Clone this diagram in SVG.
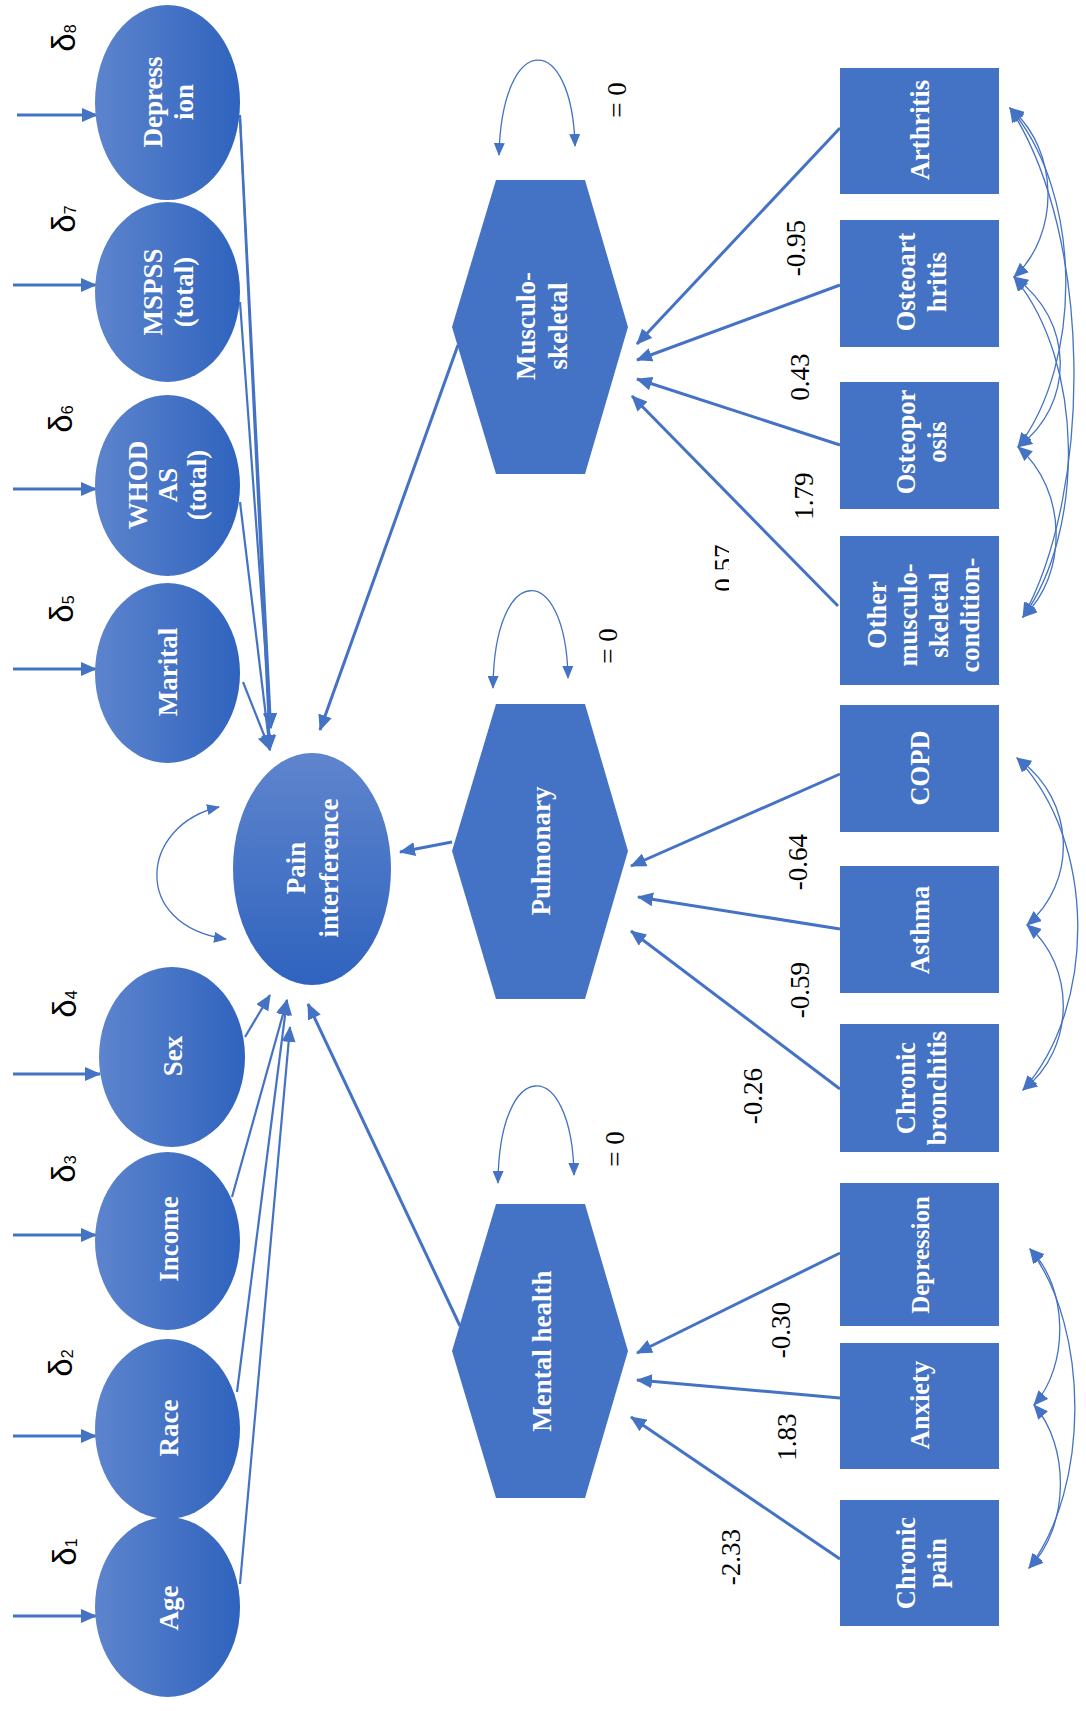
<svg xmlns="http://www.w3.org/2000/svg" width="1086" height="1711" viewBox="0 0 1086 1711">
<defs>
<style>
.bg{fill:#ffffff}
.ell{fill:url(#gH)}
.box{fill:#4472C4}
.ln{fill:none;stroke:#4472C4;stroke-width:3}
.ln2{fill:none;stroke:#4472C4;stroke-width:2.2}
.thin{fill:none;stroke:#4472C4;stroke-width:1.3}
.nt{font-family:"Liberation Serif","Times New Roman",serif;font-weight:bold;font-size:27px;fill:#ffffff;text-anchor:middle}
.rt{font-family:"Liberation Serif","Times New Roman",serif;font-weight:bold;font-size:26.5px;fill:#ffffff;text-anchor:middle}
.lb{font-family:"Liberation Serif","Times New Roman",serif;font-size:27px;fill:#000000;text-anchor:middle}
.dl{font-family:"Liberation Sans",Arial,sans-serif;font-size:33px;fill:#000000;text-anchor:middle}
.sub{font-size:16px}
</style>
<linearGradient id="gH" x1="0" y1="0" x2="1" y2="0">
<stop offset="0" stop-color="#5d84cd"/>
<stop offset="1" stop-color="#2f63be"/>
</linearGradient>
<linearGradient id="gV" x1="0" y1="0" x2="0" y2="1">
<stop offset="0" stop-color="#5f85cd"/>
<stop offset="1" stop-color="#2f63be"/>
</linearGradient>
<marker id="ah" viewBox="0 0 16 14" refX="15" refY="7" markerWidth="16" markerHeight="14" markerUnits="userSpaceOnUse" orient="auto-start-reverse">
<path d="M0,0 L16,7 L0,14 z" fill="#4472C4"/>
</marker>
<marker id="ahs" viewBox="0 0 13 11" refX="12" refY="5.5" markerWidth="13" markerHeight="11" markerUnits="userSpaceOnUse" orient="auto-start-reverse">
<path d="M0,0 L13,5.5 L0,11 z" fill="#4472C4"/>
</marker>
<marker id="ahc" viewBox="0 0 15 13" refX="14" refY="6.5" markerWidth="15" markerHeight="13" markerUnits="userSpaceOnUse" orient="auto-start-reverse">
<path d="M0,0 L15,6.5 L0,13 z" fill="#4472C4"/>
</marker>
<clipPath id="clip057"><rect x="690" y="520" width="39" height="100"/></clipPath>
</defs>
<rect class="bg" x="0" y="0" width="1086" height="1711"/>

<g id="connectors">
<!-- delta arrows -->
<path class="ln" d="M17,115 L97,115" marker-end="url(#ah)"/>
<path class="ln" d="M13,285 L96,285" marker-end="url(#ah)"/>
<path class="ln" d="M13,489 L96,489" marker-end="url(#ah)"/>
<path class="ln" d="M13,669 L96,669" marker-end="url(#ah)"/>
<path class="ln" d="M13,1074 L100,1074" marker-end="url(#ah)"/>
<path class="ln" d="M13,1235 L96,1235" marker-end="url(#ah)"/>
<path class="ln" d="M13,1436 L96,1436" marker-end="url(#ah)"/>
<path class="ln" d="M13,1616 L96,1616" marker-end="url(#ah)"/>
<!-- predictors to Pain interference -->
<path class="ln2" d="M240,115 L271,728" marker-end="url(#ah)"/>
<path class="ln2" d="M240,119 L270,750" marker-end="url(#ah)"/>
<path class="ln2" d="M240,302 L271,728" marker-end="url(#ah)"/>
<path class="ln2" d="M240,502 L270,750" marker-end="url(#ah)"/>
<path class="ln2" d="M243,682 L270,750" marker-end="url(#ah)"/>
<path class="ln2" d="M245,1037 L270,995" marker-end="url(#ah)"/>
<path class="ln2" d="M232,1197 L287,1000" marker-end="url(#ah)"/>
<path class="ln2" d="M237,1392 L287,1000" marker-end="url(#ah)"/>
<path class="ln2" d="M240,1584 L290,1027" marker-end="url(#ah)"/>
<!-- latent to Pain interference -->
<path class="ln" d="M458,345 L320,730" marker-end="url(#ah)"/>
<path class="ln" d="M452,842 L400,852" marker-end="url(#ah)"/>
<path class="ln" d="M460,1326 L308,1004" marker-end="url(#ah)"/>
<!-- indicators to latent -->
<path class="ln" d="M840,128 L637,344" marker-end="url(#ah)"/>
<path class="ln" d="M840,285 L637,360" marker-end="url(#ah)"/>
<path class="ln" d="M840,445 L637,379" marker-end="url(#ah)"/>
<path class="ln" d="M838,606 L632,396" marker-end="url(#ah)"/>
<path class="ln" d="M840,774 L631,866" marker-end="url(#ah)"/>
<path class="ln" d="M840,929 L638,897" marker-end="url(#ah)"/>
<path class="ln" d="M840,1089 L631,931" marker-end="url(#ah)"/>
<path class="ln" d="M840,1253 L637,1353" marker-end="url(#ah)"/>
<path class="ln" d="M840,1398 L637,1380" marker-end="url(#ah)"/>
<path class="ln" d="M840,1559 L631,1417" marker-end="url(#ah)"/>
<!-- self loops -->
<path class="thin" d="M499,155 C502,30 572,30 575,146" marker-start="url(#ahs)" marker-end="url(#ahs)"/>
<path class="thin" d="M493,688 C494,560 566,560 568,678" marker-start="url(#ahs)" marker-end="url(#ahs)"/>
<path class="thin" d="M498,1183 C499,1055 572,1055 574,1175" marker-start="url(#ahs)" marker-end="url(#ahs)"/>
<path class="thin" d="M219,807 C140,825 130,925 226,939" marker-start="url(#ahs)" marker-end="url(#ahs)"/>
<!-- covariances -->
<path class="thin" d="M1010,108 C1060,150 1060,235 1014,277" marker-start="url(#ahc)" marker-end="url(#ahc)"/>
<path class="thin" d="M1014,277 C1075,320 1075,405 1018,447" marker-start="url(#ahc)" marker-end="url(#ahc)"/>
<path class="thin" d="M1018,447 C1068,490 1068,575 1023,617" marker-start="url(#ahc)" marker-end="url(#ahc)"/>
<path class="thin" d="M1010,108 C1083,193 1083,362 1018,447" marker-start="url(#ahc)" marker-end="url(#ahc)"/>
<path class="thin" d="M1014,277 C1085,362 1085,532 1023,617" marker-start="url(#ahc)" marker-end="url(#ahc)"/>
<path class="thin" d="M1010,108 C1093,235 1093,490 1023,617" marker-start="url(#ahc)" marker-end="url(#ahc)"/>
<path class="thin" d="M1017,758 C1077,800 1077,883 1027,925" marker-start="url(#ahc)" marker-end="url(#ahc)"/>
<path class="thin" d="M1027,925 C1076,966 1076,1049 1023,1090" marker-start="url(#ahc)" marker-end="url(#ahc)"/>
<path class="thin" d="M1017,758 C1097,841 1097,1007 1023,1090" marker-start="url(#ahc)" marker-end="url(#ahc)"/>
<path class="thin" d="M1030,1249 C1069,1288 1069,1366 1034,1405" marker-start="url(#ahc)" marker-end="url(#ahc)"/>
<path class="thin" d="M1034,1405 C1070,1446 1070,1527 1029,1568" marker-start="url(#ahc)" marker-end="url(#ahc)"/>
<path class="thin" d="M1030,1249 C1090,1329 1090,1488 1029,1568" marker-start="url(#ahc)" marker-end="url(#ahc)"/>
</g>

<g id="labels">
<text class="dl" transform="translate(75,38) rotate(-90)">δ<tspan class="sub" dy="1">8</tspan></text>
<text class="dl" transform="translate(75,219) rotate(-90)">δ<tspan class="sub" dy="1">7</tspan></text>
<text class="dl" transform="translate(72,419) rotate(-90)">δ<tspan class="sub" dy="1">6</tspan></text>
<text class="dl" transform="translate(73,609) rotate(-90)">δ<tspan class="sub" dy="1">5</tspan></text>
<text class="dl" transform="translate(76,1004) rotate(-90)">δ<tspan class="sub" dy="1">4</tspan></text>
<text class="dl" transform="translate(75,1169) rotate(-90)">δ<tspan class="sub" dy="1">3</tspan></text>
<text class="dl" transform="translate(72,1363) rotate(-90)">δ<tspan class="sub" dy="1">2</tspan></text>
<text class="dl" transform="translate(76,1552) rotate(-90)">δ<tspan class="sub" dy="1">1</tspan></text>
<text class="lb" transform="translate(617,100) rotate(-90)" y="9">= 0</text>
<text class="lb" transform="translate(608,646) rotate(-90)" y="9">= 0</text>
<text class="lb" transform="translate(615,1149) rotate(-90)" y="9">= 0</text>
<text class="lb" transform="translate(796,248) rotate(-90)" y="9">-0.95</text>
<text class="lb" transform="translate(800,377) rotate(-90)" y="9">0.43</text>
<text class="lb" transform="translate(804,496) rotate(-90)" y="9">1.79</text>
<g clip-path="url(#clip057)"><text class="lb" transform="translate(724,568) rotate(-90)" y="9">0.57</text></g>
<text class="lb" transform="translate(798,862) rotate(-90)" y="9">-0.64</text>
<text class="lb" transform="translate(800,990) rotate(-90)" y="9">-0.59</text>
<text class="lb" transform="translate(753,1096) rotate(-90)" y="9">-0.26</text>
<text class="lb" transform="translate(781,1330) rotate(-90)" y="9">-0.30</text>
<text class="lb" transform="translate(787,1437) rotate(-90)" y="9">1.83</text>
<text class="lb" transform="translate(731,1557) rotate(-90)" y="9">-2.33</text>
</g>

<g id="n-depression">
<ellipse class="ell" cx="167.5" cy="102.5" rx="72.5" ry="97.5"/>
<text class="nt" transform="translate(167.5,102) rotate(-90)"><tspan x="0" y="-5.5">Depress</tspan><tspan x="0" y="25.5">ion</tspan></text>
</g>
<g id="n-mspss">
<ellipse class="ell" cx="167.5" cy="292" rx="72.5" ry="90"/>
<text class="nt" transform="translate(167.5,292) rotate(-90)"><tspan x="0" y="-5.5">MSPSS</tspan><tspan x="0" y="25.5">(total)</tspan></text>
</g>
<g id="n-whodas">
<ellipse class="ell" cx="167.5" cy="485.5" rx="72.5" ry="90.5"/>
<text class="nt" transform="translate(167.5,485) rotate(-90)"><tspan x="0" y="-20.5">WHOD</tspan><tspan x="0" y="9.5">AS</tspan><tspan x="0" y="38.5">(total)</tspan></text>
</g>
<g id="n-marital">
<ellipse class="ell" cx="167.5" cy="673" rx="72.5" ry="90"/>
<text class="nt" transform="translate(167.5,672) rotate(-90)" y="9.5">Marital</text>
</g>
<g id="n-sex">
<ellipse class="ell" cx="172" cy="1057" rx="73" ry="90"/>
<text class="nt" transform="translate(172,1056) rotate(-90)" y="10">Sex</text>
</g>
<g id="n-income">
<ellipse class="ell" cx="167.5" cy="1241" rx="72.5" ry="89"/>
<text class="nt" transform="translate(167.5,1239) rotate(-90)" y="10">Income</text>
</g>
<g id="n-race">
<ellipse class="ell" cx="167.5" cy="1429" rx="72.5" ry="90"/>
<text class="nt" transform="translate(167.5,1428) rotate(-90)" y="10">Race</text>
</g>
<g id="n-age">
<ellipse class="ell" cx="167.5" cy="1607" rx="72.5" ry="90"/>
<text class="nt" transform="translate(167.5,1608) rotate(-90)" y="10">Age</text>
</g>
<g id="n-pain">
<ellipse cx="312" cy="869" rx="79" ry="116" fill="url(#gV)"/>
<text class="nt" transform="translate(312,868) rotate(-90)"><tspan x="0" y="-7">Pain</tspan><tspan x="0" y="26">interference</tspan></text>
</g>

<g id="n-musculo">
<polygon class="box" points="496,180 585,180 628,327 585,474 496,474 452,327"/>
<text class="nt" transform="translate(540,326) rotate(-90)"><tspan x="0" y="-5">Musculo-</tspan><tspan x="0" y="27">skeletal</tspan></text>
</g>
<g id="n-pulmonary">
<polygon class="box" points="496,704 585,704 628,851 585,999 496,999 452,851"/>
<text class="nt" transform="translate(540,851) rotate(-90)" y="10">Pulmonary</text>
</g>
<g id="n-mental">
<polygon class="box" points="496,1204 585,1204 628,1351 585,1498 496,1498 452,1351"/>
<text class="nt" transform="translate(540,1351) rotate(-90)" y="11">Mental health</text>
</g>

<g id="n-arthritis">
<rect class="box" x="840" y="68" width="159" height="126"/>
<text class="rt" transform="translate(919.5,130) rotate(-90)" y="9.5">Arthritis</text>
</g>
<g id="n-osteoarthritis">
<rect class="box" x="840" y="220" width="159" height="127"/>
<text class="rt" transform="translate(919.5,282) rotate(-90)"><tspan x="0" y="-4.5">Osteoart</tspan><tspan x="0" y="26.5">hritis</tspan></text>
</g>
<g id="n-osteoporosis">
<rect class="box" x="840" y="382" width="159" height="127"/>
<text class="rt" transform="translate(919.5,442) rotate(-90)"><tspan x="0" y="-4.5">Osteopor</tspan><tspan x="0" y="26.5">osis</tspan></text>
</g>
<g id="n-other">
<rect class="box" x="840" y="536" width="159" height="149"/>
<text class="rt" transform="translate(919.5,615) rotate(-90)"><tspan x="0" y="-34">Other</tspan><tspan x="0" y="-3">musculo-</tspan><tspan x="0" y="28">skeletal</tspan><tspan x="0" y="59">condition-</tspan></text>
</g>
<g id="n-copd">
<rect class="box" x="840" y="705" width="159" height="127"/>
<text class="rt" transform="translate(919.5,768) rotate(-90)" y="9.5">COPD</text>
</g>
<g id="n-asthma">
<rect class="box" x="840" y="866" width="159" height="127"/>
<text class="rt" transform="translate(919.5,930) rotate(-90)" y="9.5">Asthma</text>
</g>
<g id="n-bronchitis">
<rect class="box" x="840" y="1024" width="159" height="128"/>
<text class="rt" transform="translate(919.5,1088) rotate(-90)"><tspan x="0" y="-4.5">Chronic</tspan><tspan x="0" y="26.5">bronchitis</tspan></text>
</g>
<g id="n-depression2">
<rect class="box" x="840" y="1183" width="159" height="143"/>
<text class="rt" transform="translate(919.5,1255) rotate(-90)" y="9" style="font-size:25px">Depression</text>
</g>
<g id="n-anxiety">
<rect class="box" x="840" y="1343" width="159" height="126"/>
<text class="rt" transform="translate(919.5,1405) rotate(-90)" y="9.5">Anxiety</text>
</g>
<g id="n-chronicpain">
<rect class="box" x="840" y="1500" width="159" height="126"/>
<text class="rt" transform="translate(919.5,1563) rotate(-90)"><tspan x="0" y="-4.5">Chronic</tspan><tspan x="0" y="26.5">pain</tspan></text>
</g>
</svg>
